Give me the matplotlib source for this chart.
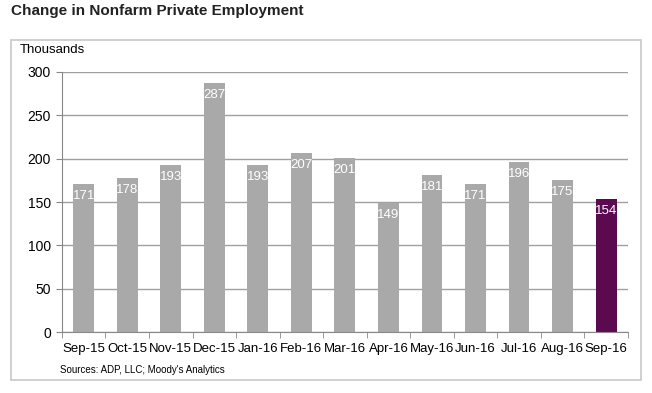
import matplotlib.pyplot as plt
from matplotlib.patches import Rectangle

months = ["Sep-15", "Oct-15", "Nov-15", "Dec-15", "Jan-16", "Feb-16", "Mar-16",
          "Apr-16", "May-16", "Jun-16", "Jul-16", "Aug-16", "Sep-16"]
values = [171, 178, 193, 287, 193, 207, 201, 149, 181, 171, 196, 175, 154]
y_ticks = [0, 50, 100, 150, 200, 250, 300]

plt.rcParams["font.family"] = ["Liberation Sans", "DejaVu Sans"]

fig = plt.figure(figsize=(6.52, 3.93), dpi=100)
fig.patch.set_facecolor("white")

# outer frame around the chart
fig.patches.append(Rectangle((0.017, 0.033), 0.966, 0.865, transform=fig.transFigure,
                             fill=False, edgecolor="#c8c8c8", linewidth=1.2))
fig.text(0.017, 0.973, "Change in Nonfarm Private Employment", fontsize=11,
         fontweight="bold", color="#222222", va="center", ha="left")
fig.text(0.031, 0.873, "Thousands", fontsize=9.5, va="center", ha="left")
fig.text(0.092, 0.058, "Sources: ADP, LLC; Moody's Analytics", fontsize=7,
         va="center", ha="left")

ax = fig.add_axes([0.095, 0.155, 0.868, 0.662])
colors = ["#a9a9a9"] * (len(values) - 1) + ["#5c0a50"]
x = range(len(values))
ax.bar(x, values, width=0.48, color=colors, zorder=2)
for i, v in enumerate(values):
    ax.text(i, v - 7, str(v), ha="center", va="top", color="white", fontsize=9.5, zorder=3)

ax.set_xlim(-0.5, len(values) - 0.5)
ax.set_ylim(0, 300)
ax.set_yticks(y_ticks)
ax.yaxis.grid(True, color="#a0a0a0", linewidth=1)
ax.set_axisbelow(True)
ax.set_xticks(x)
ax.set_xticklabels(months, fontsize=9.5)
ax.set_xticks([i + 0.5 for i in range(-1, len(values))], minor=True)
ax.tick_params(axis="x", which="major", length=0, pad=8)
ax.tick_params(axis="x", which="minor", length=4, color="#888888")
ax.tick_params(axis="y", length=4, color="#888888", labelsize=10, pad=4)
for s in ["top", "right"]:
    ax.spines[s].set_visible(False)
for s in ["left", "bottom"]:
    ax.spines[s].set_color("#888888")

fig.savefig("out.png", dpi=100)
